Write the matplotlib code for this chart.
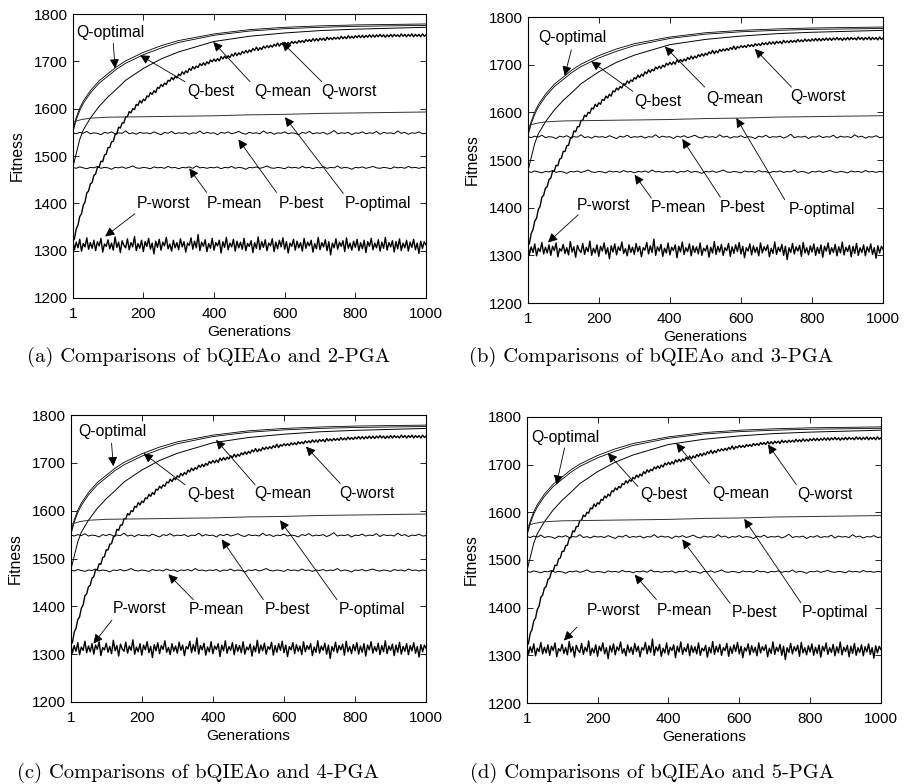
import matplotlib.pyplot as plt

plt.rcParams['font.family'] = ['Liberation Sans', 'DejaVu Sans']

GENS_DENSE = [1] + list(range(5, 1001, 5))
GENS_NOISY = [1] + list(range(10, 1001, 10))
GENS_SMOOTH = [1, 10, 20, 30, 50, 75, 100, 125, 150, 200, 250, 300, 400, 500, 600, 700, 800, 900, 1000]
GENS_POPT = [1, 10, 25, 50, 100, 200, 300, 400, 500, 600, 700, 800, 900, 1000]

Q_OPTIMAL = [1556, 1581, 1601, 1616, 1638, 1659, 1674, 1689, 1701, 1719, 1733, 1744, 1758, 1767, 1772, 1775, 1777, 1778, 1779]
Q_BEST = [1551, 1576, 1596, 1611, 1633, 1654, 1669, 1684, 1696, 1714, 1728, 1740, 1755, 1764, 1769, 1772, 1774, 1775, 1776]
Q_MEAN = [1478, 1505, 1535, 1555, 1580, 1605, 1625, 1642, 1660, 1685, 1705, 1720, 1742, 1753, 1760, 1765, 1768, 1770, 1772]

Q_WORST = [1320, 1325, 1346, 1354, 1372, 1378, 1396, 1403, 1422, 1426,
           1441, 1444, 1459, 1462, 1476, 1477, 1489, 1488, 1502, 1504,
           1518, 1518, 1530, 1531, 1545, 1547, 1561, 1559, 1570, 1570,
           1583, 1583, 1594, 1591, 1600, 1598, 1609, 1607, 1617, 1612,
           1620, 1617, 1627, 1625, 1634, 1630, 1638, 1634, 1645, 1643,
           1651, 1647, 1654, 1651, 1660, 1658, 1666, 1661, 1668, 1665,
           1673, 1670, 1678, 1673, 1680, 1676, 1685, 1681, 1689, 1684,
           1690, 1687, 1695, 1691, 1697, 1692, 1699, 1695, 1703, 1699,
           1705, 1700, 1706, 1701, 1710, 1705, 1711, 1706, 1712, 1708,
           1715, 1711, 1718, 1712, 1718, 1714, 1721, 1717, 1723, 1718,
           1724, 1720, 1727, 1723, 1730, 1723, 1729, 1725, 1732, 1728,
           1733, 1729, 1734, 1730, 1736, 1732, 1739, 1732, 1738, 1735,
           1740, 1736, 1740, 1736, 1742, 1738, 1742, 1738, 1744, 1740,
           1744, 1740, 1746, 1742, 1746, 1742, 1748, 1743, 1748, 1743,
           1749, 1745, 1749, 1744, 1751, 1746, 1750, 1746, 1751, 1747,
           1751, 1747, 1753, 1748, 1752, 1748, 1754, 1749, 1753, 1749,
           1754, 1750, 1755, 1750, 1755, 1750, 1755, 1751, 1756, 1751,
           1756, 1751, 1756, 1752, 1757, 1752, 1756, 1751, 1756, 1752,
           1757, 1752, 1757, 1753, 1756, 1752, 1758, 1753, 1757, 1752,
           1757, 1753, 1758, 1752, 1757, 1753, 1757, 1752, 1758, 1753,
           1756]

P_OPTIMAL = [1572, 1574, 1577, 1580, 1582, 1583, 1584, 1585, 1587, 1588, 1590, 1591, 1592, 1593]

P_BEST = [1549, 1547, 1550, 1548, 1552, 1547, 1549, 1548, 1545, 1550,
          1548, 1551, 1547, 1549, 1548, 1553, 1547, 1549, 1546, 1550,
          1548, 1549, 1547, 1551, 1548, 1545, 1550, 1548, 1552, 1547,
          1549, 1548, 1550, 1546, 1549, 1548, 1553, 1547, 1550, 1548,
          1549, 1545, 1550, 1548, 1551, 1547, 1549, 1552, 1548, 1546,
          1550, 1548, 1549, 1547, 1553, 1548, 1550, 1546, 1549, 1548,
          1551, 1547, 1549, 1548, 1545, 1550, 1548, 1552, 1547, 1549,
          1548, 1550, 1546, 1549, 1554, 1547, 1549, 1548, 1550, 1545,
          1549, 1548, 1551, 1547, 1549, 1548, 1552, 1546, 1550, 1548,
          1549, 1547, 1553, 1548, 1550, 1546, 1549, 1548, 1551, 1547,
          1548]

P_MEAN = [1476, 1474, 1477, 1475, 1473, 1476, 1475, 1478, 1474, 1476,
          1475, 1472, 1476, 1475, 1477, 1474, 1476, 1479, 1475, 1474,
          1476, 1475, 1473, 1477, 1475, 1476, 1474, 1478, 1475, 1476,
          1473, 1476, 1475, 1477, 1474, 1479, 1475, 1476, 1474, 1476,
          1475, 1477, 1473, 1476, 1475, 1478, 1474, 1476, 1475, 1472,
          1476, 1475, 1477, 1474, 1476, 1479, 1475, 1474, 1476, 1475,
          1473, 1477, 1475, 1476, 1474, 1478, 1475, 1476, 1473, 1476,
          1475, 1477, 1474, 1476, 1475, 1479, 1474, 1476, 1475, 1472,
          1476, 1475, 1477, 1474, 1476, 1478, 1475, 1474, 1476, 1475,
          1473, 1477, 1475, 1476, 1474, 1478, 1475, 1476, 1474, 1476,
          1475]

P_WORST = [1320, 1302, 1318, 1306, 1324, 1299, 1315, 1308, 1327, 1303,
           1317, 1305, 1322, 1300, 1319, 1310, 1326, 1297, 1314, 1309,
           1323, 1304, 1316, 1301, 1329, 1307, 1318, 1296, 1321, 1311,
           1306, 1325, 1302, 1317, 1308, 1330, 1300, 1315, 1305, 1322,
           1298, 1319, 1309, 1326, 1303, 1316, 1293, 1320, 1307, 1324,
           1301, 1318, 1310, 1328, 1304, 1314, 1299, 1322, 1306, 1317,
           1302, 1325, 1308, 1319, 1297, 1316, 1311, 1327, 1303, 1320,
           1306, 1334, 1300, 1318, 1309, 1323, 1298, 1315, 1305, 1326,
           1301, 1317, 1310, 1322, 1295, 1319, 1307, 1328, 1302, 1316,
           1308, 1324, 1299, 1320, 1306, 1318, 1303, 1326, 1300, 1315,
           1309, 1321, 1296, 1317, 1305, 1329, 1302, 1319, 1307, 1323,
           1300, 1316, 1310, 1325, 1298, 1318, 1304, 1322, 1308, 1327,
           1303, 1319, 1295, 1316, 1309, 1324, 1301, 1320, 1306, 1317,
           1299, 1326, 1305, 1318, 1310, 1322, 1297, 1315, 1304, 1328,
           1302, 1317, 1308, 1323, 1300, 1319, 1291, 1316, 1306, 1325,
           1303, 1318, 1309, 1321, 1298, 1327, 1305, 1316, 1301, 1320,
           1307, 1324, 1300, 1317, 1304, 1322, 1296, 1319, 1309, 1326,
           1302, 1316, 1306, 1323, 1299, 1318, 1305, 1328, 1301, 1317,
           1308, 1321, 1297, 1319, 1304, 1325, 1300, 1316, 1306, 1322,
           1299, 1318, 1307, 1324, 1302, 1316, 1294, 1320, 1305, 1319,
           1312]

LABELS = ['Q-optimal', 'Q-best', 'Q-mean', 'Q-worst', 'P-optimal', 'P-best', 'P-mean', 'P-worst']
CAPTIONS = ['(a) Comparisons of bQIEAo and 2-PGA', '(b) Comparisons of bQIEAo and 3-PGA',
            '(c) Comparisons of bQIEAo and 4-PGA', '(d) Comparisons of bQIEAo and 5-PGA']
XTICKS = [1, 200, 400, 600, 800, 1000]
YTICKS = [1200, 1300, 1400, 1500, 1600, 1700, 1800]

# layout: axes rectangles, caption centres, label/arrow placement (text, tail, tip)
AXES_RECTS = [[0.0806, 0.6199, 0.3896, 0.3622], [0.5828, 0.6135, 0.3920, 0.3648],
              [0.0784, 0.1046, 0.3920, 0.3660], [0.5817, 0.1033, 0.3907, 0.3650]]
CAPTION_POS = [(0.230, 0.545), (0.719, 0.545), (0.2185, 0.014), (0.720, 0.014)]
ANNOTS = [
    [((108, 1761), (115, 1738), (120, 1685)), ((391, 1636), (318, 1657), (191, 1713)),
     ((594, 1636), (502, 1657), (398, 1741)), ((783, 1636), (705, 1657), (592, 1741)),
     ((865, 1400), (766, 1421), (601, 1582)), ((648, 1400), (577, 1423), (469, 1535)),
     ((459, 1400), (379, 1423), (330, 1474)), ((257, 1400), (176, 1378), (92, 1330))],
    [((126, 1756), (123, 1731), (104, 1677)), ((367, 1623), (296, 1644), (179, 1707)),
     ((583, 1630), (498, 1653), (386, 1738)), ((817, 1633), (742, 1653), (639, 1733)),
     ((829, 1397), (723, 1417), (587, 1588)), ((604, 1401), (542, 1422), (435, 1544)),
     ((423, 1401), (348, 1420), (301, 1469)), ((214, 1404), (142, 1385), (57, 1327))],
    [((116, 1765), (115, 1741), (120, 1693)), ((394, 1633), (322, 1654), (205, 1720)),
     ((598, 1635), (519, 1654), (409, 1748)), ((833, 1637), (758, 1657), (662, 1734)),
     ((848, 1393), (749, 1414), (589, 1580)), ((610, 1393), (542, 1414), (425, 1540)),
     ((409, 1393), (345, 1414), (275, 1467)), ((195, 1395), (116, 1371), (64, 1322))],
    [((110, 1757), (107, 1735), (84, 1658)), ((387, 1637), (314, 1654), (229, 1724)),
     ((603, 1639), (516, 1660), (422, 1745)), ((841, 1637), (761, 1658), (681, 1742)),
     ((871, 1390), (774, 1410), (614, 1586)), ((643, 1390), (574, 1409), (439, 1543)),
     ((446, 1394), (366, 1417), (305, 1469)), ((244, 1394), (142, 1359), (105, 1331))],
]

fig = plt.figure(figsize=(9.06, 7.84), dpi=100)

for i in range(4):
    ax = fig.add_axes(AXES_RECTS[i])

    # curves
    ax.plot(GENS_SMOOTH, Q_OPTIMAL, color='k', lw=0.6)
    ax.plot(GENS_SMOOTH, Q_BEST, color='k', lw=0.6)
    ax.plot(GENS_SMOOTH, Q_MEAN, color='k', lw=0.7)
    ax.plot(GENS_DENSE, Q_WORST, color='k', lw=1.0)
    ax.plot(GENS_POPT, P_OPTIMAL, color='#333333', lw=0.7)
    ax.plot(GENS_NOISY, P_BEST, color='k', lw=0.7)
    ax.plot(GENS_NOISY, P_MEAN, color='k', lw=0.7)
    ax.plot(GENS_DENSE, P_WORST, color='k', lw=1.0)

    # labels with arrows
    for label, (txt, tail, tip) in zip(LABELS, ANNOTS[i]):
        ax.text(txt[0], txt[1], label, ha='center', va='center', fontsize=11.3)
        ax.annotate('', xy=tip, xytext=tail,
                    arrowprops=dict(arrowstyle='-|>', color='k', lw=0.6,
                                    mutation_scale=14, shrinkA=0, shrinkB=0))

    ax.set_xlim(1, 1000)
    ax.set_ylim(1200, 1800)
    ax.set_xticks(XTICKS)
    ax.set_yticks(YTICKS)
    ax.tick_params(direction='in', top=True, right=True, length=4, width=0.6, labelsize=11)
    ax.tick_params(axis='x', pad=6.5)
    ax.tick_params(axis='y', pad=4)
    for sp in ax.spines.values():
        sp.set_linewidth(0.8)
    ax.set_xlabel('Generations', fontsize=11.1, labelpad=3)
    ax.set_ylabel('Fitness', fontsize=11.3, labelpad=6)

    fig.text(CAPTION_POS[i][0], CAPTION_POS[i][1], CAPTIONS[i], ha='center', va='center',
             fontsize=14.8, family=['cmr10', 'DejaVu Serif'])

plt.savefig('out.png', dpi=100)
